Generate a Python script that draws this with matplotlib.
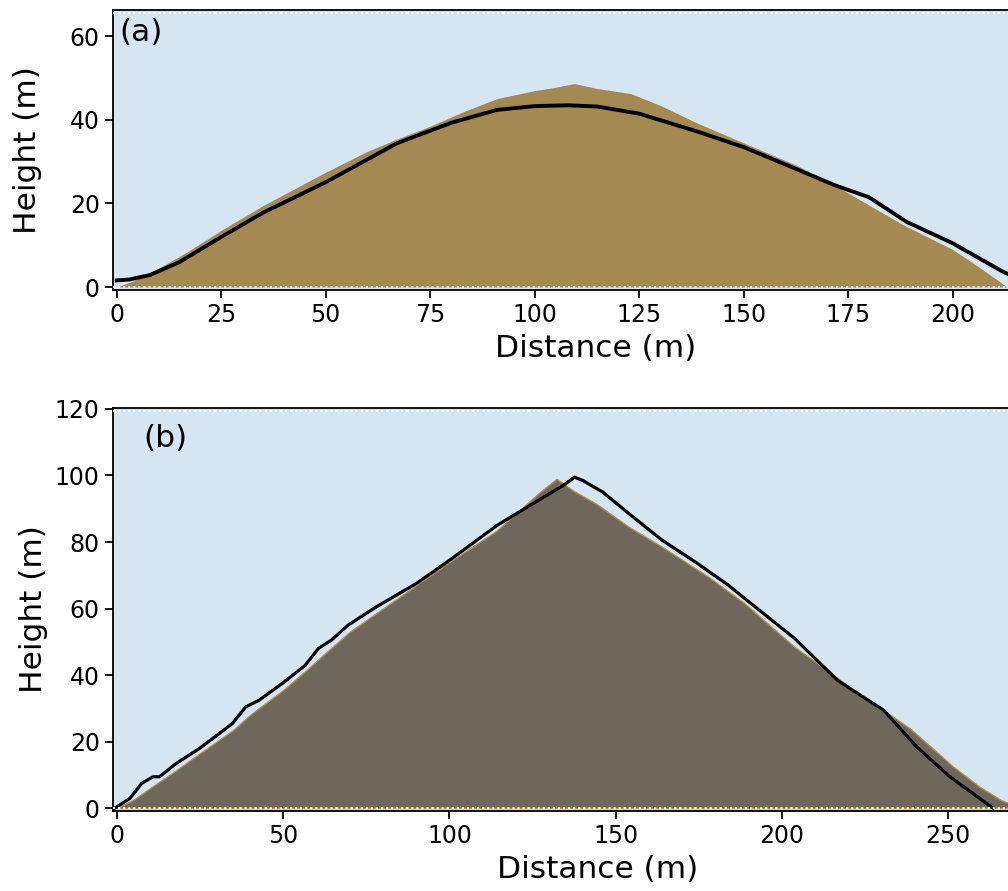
import numpy as np
import matplotlib
matplotlib.use("Agg")
import matplotlib.pyplot as plt

# ---- panel (a): pile surface and model profile ----
a_pile_x = [0, 4, 10, 17, 25, 35, 50, 60, 67, 75, 83, 91, 100, 105, 109.5, 115, 123, 130, 139, 150, 163, 175, 188, 200, 206, 211, 213]
a_pile_h = [0, 1.5, 4.5, 8.5, 13.6, 19.5, 27.5, 32.5, 35.4, 38.5, 42.0, 45.1, 47.0, 47.8, 48.7, 47.5, 46.3, 43.5, 39.2, 34.5, 29.0, 22.5, 15.0, 9.0, 5.0, 1.5, 0]
a_line_x = [0, 3, 8, 15, 25, 35, 50, 67, 80, 91, 100, 108, 115, 125, 139, 150, 162, 172, 180, 189, 200, 212, 220]
a_line_h = [1.6, 1.8, 2.9, 6.0, 12.0, 17.8, 25.1, 34.4, 39.3, 42.4, 43.3, 43.5, 43.2, 41.5, 37.2, 33.5, 28.5, 24.3, 21.5, 15.6, 10.5, 3.7, 0]

# ---- panel (b): pile surface and model profile ----
b_pile_x = [0, 5, 10, 18, 25, 35, 40, 50, 57, 62, 70, 85, 100, 114.3, 127.2, 132.2, 137.1, 144.1, 154, 164, 177.9, 188.8, 203.8, 213.7, 222, 230.6, 238.5, 243.6, 251.5, 259.4, 265.8, 272]
b_pile_h = [0, 2.5, 6.0, 11.5, 16.5, 23.5, 28.0, 35.5, 41.5, 46.0, 53.0, 63.5, 74.0, 83.5, 95.0, 99.0, 95.5, 91.5, 84.5, 78.5, 69.5, 61.5, 48.4, 41.4, 35.0, 29.4, 23.9, 19.4, 12.4, 6.4, 2.4, 0]
b_line_x = [-0.6, 3.9, 7.4, 10.9, 12.8, 17.8, 24.8, 34.7, 38.7, 42.7, 49.6, 56.6, 60.6, 64.5, 69.5, 78, 90, 100, 114.3, 124.2, 134.2, 137.6, 140.1, 146.1, 154, 164, 173.9, 183.9, 188.8, 203.8, 216.7, 230.6, 240.5, 250.5, 263.4]
b_line_h = [0, 2.9, 7.4, 9.4, 9.4, 13.4, 17.9, 25.4, 30.4, 32.4, 37.4, 42.9, 48.0, 50.5, 55.0, 60.5, 67.5, 74.5, 85.0, 91.0, 97.0, 99.5, 98.5, 95.0, 88.5, 80.5, 74.0, 67.0, 63.0, 51.0, 38.4, 29.4, 18.4, 9.4, 0]

water = "#d5e6f2"
sand_a = "#a58953"
sand_b = "#6e675b"
sand_edge = "#b08d4f"

W, H = 1008, 891
fig = plt.figure(figsize=(W / 100, H / 100), dpi=100)

# axes boxes in pixels; right side runs past the figure edge (cropped figure)
def px_axes(left, top, bottom, xlim, ylim):
    ppu = (bottom - top) / (ylim[1] - ylim[0])
    width = (xlim[1] - xlim[0]) * ppu
    ax = fig.add_axes([left / W, 1 - bottom / H, width / W, (bottom - top) / H])
    ax.set_xlim(*xlim)
    ax.set_ylim(*ylim)
    return ax, ppu

ax1, ppu1 = px_axes(113, 10, 290, (-0.9, 230), (-0.7, 66.3))
ax2, ppu2 = px_axes(113, 408, 811, (-1.2, 290), (-0.9, 120.3))

for ax, ppu in ((ax1, ppu1), (ax2, ppu2)):
    ax.set_facecolor(water)
    for s in ax.spines.values():
        s.set_linewidth(1.3)
    ax.tick_params(labelsize=17, width=1.3, length=6)
    ax.set_xlabel("Distance (m)", fontsize=22.5, labelpad=5)
    ax.set_ylabel("Height (m)", fontsize=22.5)
    # gaps between the top/bottom rows of particles
    off = 3 / ppu
    ax.axhline(ax.get_ylim()[0] + off, color="white", ls=(0, (1.2, 1.6)), lw=1.3, zorder=3)
    ax.axhline(ax.get_ylim()[1] - off, color="white", ls=(0, (1.2, 1.6)), lw=1.3, zorder=3)

ax1.yaxis.set_label_coords(42 / W, 1 - 150 / H, transform=fig.transFigure)
ax2.yaxis.set_label_coords(48 / W, 1 - 609 / H, transform=fig.transFigure)

ax1.fill_between(a_pile_x, 0, a_pile_h, color=sand_a, lw=0)
ax1.plot(a_line_x, a_line_h, color="black", lw=2.8)
ax1.set_xticks([0, 25, 50, 75, 100, 125, 150, 175, 200])
ax1.set_yticks([0, 20, 40, 60])
ax1.text(119 / W, 1 - 18 / H, "(a)", transform=fig.transFigure, fontsize=22.5, va="top")

ax2.fill_between(b_pile_x, 0, b_pile_h, color=sand_b, edgecolor=sand_edge, lw=1.0)
ax2.plot(b_line_x, b_line_h, color="black", lw=2.3)
ax2.set_xticks([0, 50, 100, 150, 200, 250])
ax2.set_yticks([0, 20, 40, 60, 80, 100, 120])
ax2.text(143 / W, 1 - 424 / H, "(b)", transform=fig.transFigure, fontsize=22.5, va="top")

fig.savefig("out.png", dpi=100)
